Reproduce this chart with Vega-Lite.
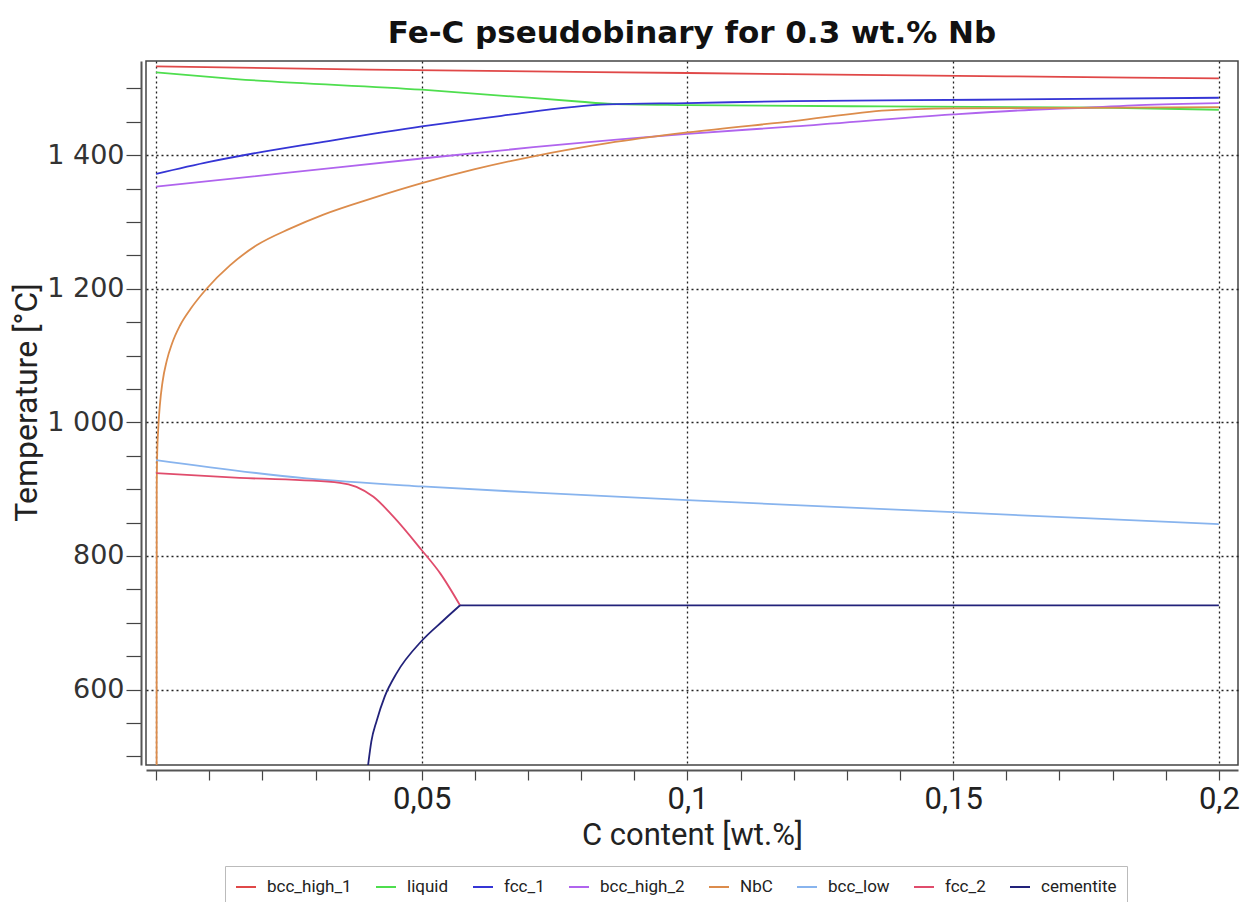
{
  "$schema": "https://vega.github.io/schema/vega-lite/v6.json",
  "width": 1092,
  "height": 704,
  "autosize": {"type": "none"},
  "padding": {"left": 146, "top": 61, "right": 13, "bottom": 137},
  "background": "white",
  "title": {
    "text": "Fe-C pseudobinary for 0.3 wt.% Nb",
    "font": "DejaVu Sans",
    "fontSize": 31,
    "fontWeight": "bold",
    "color": "#111111",
    "anchor": "middle",
    "offset": 11
  },
  "config": {
    "view": {"stroke": "#444444", "strokeWidth": 1.5}
  },
  "data": {
    "values": [
      {"p": "bcc_high_1", "s": "bcc_high_1", "i": 0, "c": 0.0, "t": 1533},
      {"p": "bcc_high_1", "s": "bcc_high_1", "i": 1, "c": 0.04, "t": 1528},
      {"p": "bcc_high_1", "s": "bcc_high_1", "i": 2, "c": 0.1, "t": 1523},
      {"p": "bcc_high_1", "s": "bcc_high_1", "i": 3, "c": 0.16, "t": 1518},
      {"p": "bcc_high_1", "s": "bcc_high_1", "i": 4, "c": 0.2, "t": 1515},

      {"p": "liquid", "s": "liquid", "i": 0, "c": 0.0, "t": 1524},
      {"p": "liquid", "s": "liquid", "i": 1, "c": 0.015, "t": 1514},
      {"p": "liquid", "s": "liquid", "i": 2, "c": 0.05, "t": 1498},
      {"p": "liquid", "s": "liquid", "i": 3, "c": 0.08, "t": 1480},
      {"p": "liquid", "s": "liquid", "i": 4, "c": 0.085, "t": 1477},
      {"p": "liquid", "s": "liquid", "i": 5, "c": 0.1, "t": 1475},
      {"p": "liquid", "s": "liquid", "i": 6, "c": 0.137, "t": 1473},
      {"p": "liquid", "s": "liquid", "i": 7, "c": 0.18, "t": 1471},
      {"p": "liquid", "s": "liquid", "i": 8, "c": 0.2, "t": 1468},

      {"p": "fcc_1", "s": "fcc_1", "i": 0, "c": 0.0, "t": 1372},
      {"p": "fcc_1", "s": "fcc_1", "i": 1, "c": 0.01, "t": 1390},
      {"p": "fcc_1", "s": "fcc_1", "i": 2, "c": 0.02, "t": 1405},
      {"p": "fcc_1", "s": "fcc_1", "i": 3, "c": 0.03, "t": 1418},
      {"p": "fcc_1", "s": "fcc_1", "i": 4, "c": 0.05, "t": 1443},
      {"p": "fcc_1", "s": "fcc_1", "i": 5, "c": 0.065, "t": 1459},
      {"p": "fcc_1", "s": "fcc_1", "i": 6, "c": 0.085, "t": 1476},
      {"p": "fcc_1", "s": "fcc_1", "i": 7, "c": 0.1, "t": 1478},
      {"p": "fcc_1", "s": "fcc_1", "i": 8, "c": 0.12, "t": 1481},
      {"p": "fcc_1", "s": "fcc_1", "i": 9, "c": 0.155, "t": 1483},
      {"p": "fcc_1", "s": "fcc_1", "i": 10, "c": 0.2, "t": 1486},

      {"p": "bcc_high_2", "s": "bcc_high_2", "i": 0, "c": 0.0, "t": 1353},
      {"p": "bcc_high_2", "s": "bcc_high_2", "i": 1, "c": 0.024, "t": 1373},
      {"p": "bcc_high_2", "s": "bcc_high_2", "i": 2, "c": 0.05, "t": 1395},
      {"p": "bcc_high_2", "s": "bcc_high_2", "i": 3, "c": 0.071, "t": 1412},
      {"p": "bcc_high_2", "s": "bcc_high_2", "i": 4, "c": 0.1, "t": 1432},
      {"p": "bcc_high_2", "s": "bcc_high_2", "i": 5, "c": 0.12, "t": 1443},
      {"p": "bcc_high_2", "s": "bcc_high_2", "i": 6, "c": 0.15, "t": 1461},
      {"p": "bcc_high_2", "s": "bcc_high_2", "i": 7, "c": 0.165, "t": 1468},
      {"p": "bcc_high_2", "s": "bcc_high_2", "i": 8, "c": 0.175, "t": 1471},
      {"p": "bcc_high_2", "s": "bcc_high_2", "i": 9, "c": 0.185, "t": 1475},
      {"p": "bcc_high_2", "s": "bcc_high_2", "i": 10, "c": 0.2, "t": 1478},

      {"p": "NbC", "s": "NbC", "i": 0, "c": 0.0001, "t": 487},
      {"p": "NbC", "s": "NbC", "i": 1, "c": 0.00012, "t": 900},
      {"p": "NbC", "s": "NbC", "i": 2, "c": 0.0002, "t": 950},
      {"p": "NbC", "s": "NbC", "i": 3, "c": 0.0004, "t": 990},
      {"p": "NbC", "s": "NbC", "i": 4, "c": 0.0007, "t": 1025},
      {"p": "NbC", "s": "NbC", "i": 5, "c": 0.0012, "t": 1060},
      {"p": "NbC", "s": "NbC", "i": 6, "c": 0.002, "t": 1092},
      {"p": "NbC", "s": "NbC", "i": 7, "c": 0.003, "t": 1118},
      {"p": "NbC", "s": "NbC", "i": 8, "c": 0.0045, "t": 1145},
      {"p": "NbC", "s": "NbC", "i": 9, "c": 0.0065, "t": 1170},
      {"p": "NbC", "s": "NbC", "i": 10, "c": 0.0095, "t": 1200},
      {"p": "NbC", "s": "NbC", "i": 11, "c": 0.0139, "t": 1235},
      {"p": "NbC", "s": "NbC", "i": 12, "c": 0.0189, "t": 1265},
      {"p": "NbC", "s": "NbC", "i": 13, "c": 0.0252, "t": 1290},
      {"p": "NbC", "s": "NbC", "i": 14, "c": 0.0315, "t": 1311},
      {"p": "NbC", "s": "NbC", "i": 15, "c": 0.0409, "t": 1336},
      {"p": "NbC", "s": "NbC", "i": 16, "c": 0.05, "t": 1358},
      {"p": "NbC", "s": "NbC", "i": 17, "c": 0.06, "t": 1379},
      {"p": "NbC", "s": "NbC", "i": 18, "c": 0.0708, "t": 1398},
      {"p": "NbC", "s": "NbC", "i": 19, "c": 0.085, "t": 1418},
      {"p": "NbC", "s": "NbC", "i": 20, "c": 0.1, "t": 1434},
      {"p": "NbC", "s": "NbC", "i": 21, "c": 0.12, "t": 1451},
      {"p": "NbC", "s": "NbC", "i": 22, "c": 0.1376, "t": 1467},
      {"p": "NbC", "s": "NbC", "i": 23, "c": 0.15, "t": 1470},
      {"p": "NbC", "s": "NbC", "i": 24, "c": 0.2, "t": 1472},

      {"p": "bcc_low", "s": "bcc_low", "i": 0, "c": 0.0, "t": 943.5},
      {"p": "bcc_low", "s": "bcc_low", "i": 1, "c": 0.0283, "t": 916},
      {"p": "bcc_low", "s": "bcc_low", "i": 2, "c": 0.05, "t": 904},
      {"p": "bcc_low", "s": "bcc_low", "i": 3, "c": 0.0723, "t": 894.5},
      {"p": "bcc_low", "s": "bcc_low", "i": 4, "c": 0.1, "t": 883.5},
      {"p": "bcc_low", "s": "bcc_low", "i": 5, "c": 0.15, "t": 865.5},
      {"p": "bcc_low", "s": "bcc_low", "i": 6, "c": 0.2, "t": 847.5},

      {"p": "fcc_2", "s": "fcc_2", "i": 0, "c": 0.0, "t": 924},
      {"p": "fcc_2", "s": "fcc_2", "i": 1, "c": 0.0157, "t": 917},
      {"p": "fcc_2", "s": "fcc_2", "i": 2, "c": 0.0346, "t": 909.5},
      {"p": "fcc_2", "s": "fcc_2", "i": 3, "c": 0.0377, "t": 903.5},
      {"p": "fcc_2", "s": "fcc_2", "i": 4, "c": 0.0409, "t": 888.5},
      {"p": "fcc_2", "s": "fcc_2", "i": 5, "c": 0.0447, "t": 858.5},
      {"p": "fcc_2", "s": "fcc_2", "i": 6, "c": 0.05, "t": 808.5},
      {"p": "fcc_2", "s": "fcc_2", "i": 7, "c": 0.0535, "t": 773.5},
      {"p": "fcc_2", "s": "fcc_2", "i": 8, "c": 0.0572, "t": 726},

      {"p": "cementite", "s": "cementite_a", "i": 0, "c": 0.0399, "t": 487},
      {"p": "cementite", "s": "cementite_a", "i": 1, "c": 0.0405, "t": 522},
      {"p": "cementite", "s": "cementite_a", "i": 2, "c": 0.0415, "t": 553},
      {"p": "cementite", "s": "cementite_a", "i": 3, "c": 0.043, "t": 589},
      {"p": "cementite", "s": "cementite_a", "i": 4, "c": 0.0453, "t": 625},
      {"p": "cementite", "s": "cementite_a", "i": 5, "c": 0.05, "t": 673},
      {"p": "cementite", "s": "cementite_a", "i": 6, "c": 0.054, "t": 703},
      {"p": "cementite", "s": "cementite_a", "i": 7, "c": 0.0572, "t": 726},
      {"p": "cementite", "s": "cementite_b", "i": 8, "c": 0.0572, "t": 726},
      {"p": "cementite", "s": "cementite_b", "i": 9, "c": 0.2, "t": 726}
    ]
  },
  "mark": {"type": "line", "strokeWidth": 1.8, "clip": true, "interpolate": "monotone"},
  "encoding": {
    "x": {
      "field": "c",
      "type": "quantitative",
      "scale": {"domain": [-0.0019, 0.2036], "nice": false, "zero": false},
      "axis": {
        "title": "C content [wt.%]",
        "titleFont": "Roboto",
        "titleFontSize": 31,
        "titleFontWeight": "normal",
        "titleColor": "#222222",
        "titlePadding": 6,
        "values": [0, 0.01, 0.02, 0.03, 0.04, 0.05, 0.06, 0.07, 0.08, 0.09, 0.1, 0.11, 0.12, 0.13, 0.14, 0.15, 0.16, 0.17, 0.18, 0.19, 0.2],
        "labelExpr": "(abs(datum.value*20 - round(datum.value*20)) < 0.000001 && datum.value > 0) ? replace(format(datum.value, '~g'), '.', ',') : ''",
        "labelFont": "Roboto",
        "labelFontSize": 31,
        "labelColor": "#222222",
        "labelPadding": 4,
        "labelFlush": false,
        "labelOverlap": false,
        "offset": 5,
        "domainColor": "#555555",
        "domainWidth": 2,
        "tickColor": "#444444",
        "tickSize": 10,
        "tickWidth": 1.2,
        "grid": true,
        "gridColor": "#222222",
        "gridDash": [2, 3],
        "gridWidth": 1.3,
        "gridOpacity": {"condition": {"test": "abs(datum.value*20 - round(datum.value*20)) < 0.000001", "value": 1}, "value": 0}
      }
    },
    "y": {
      "field": "t",
      "type": "quantitative",
      "scale": {"domain": [487, 1541], "nice": false, "zero": false},
      "axis": {
        "title": "Temperature [°C]",
        "titleFont": "Roboto",
        "titleFontSize": 32,
        "titleFontWeight": "normal",
        "titleColor": "#222222",
        "titlePadding": 3,
        "titleY": 341,
        "values": [500, 550, 600, 650, 700, 750, 800, 850, 900, 950, 1000, 1050, 1100, 1150, 1200, 1250, 1300, 1350, 1400, 1450, 1500],
        "labelExpr": "datum.value % 200 === 0 ? replace(format(datum.value, ','), ',', ' ') : ''",
        "labelFont": "DejaVu Sans",
        "labelFontSize": 27,
        "labelColor": "#333333",
        "labelPadding": 2,
        "labelFlush": false,
        "labelOverlap": false,
        "offset": 5,
        "domainColor": "#555555",
        "domainWidth": 2,
        "tickColor": "#444444",
        "tickSize": 15,
        "tickWidth": 1.2,
        "grid": true,
        "gridColor": "#222222",
        "gridDash": [2, 3],
        "gridWidth": 1.3,
        "gridOpacity": {"condition": {"test": "datum.value % 200 === 0", "value": 1}, "value": 0}
      }
    },
    "color": {
      "field": "p",
      "type": "nominal",
      "scale": {
        "domain": ["bcc_high_1", "liquid", "fcc_1", "bcc_high_2", "NbC", "bcc_low", "fcc_2", "cementite"],
        "range": ["#e04848", "#4ede4e", "#3535d5", "#b064ee", "#dc8c4c", "#88b4ee", "#e04c6c", "#22227a"]
      },
      "legend": {
        "title": null,
        "orient": "none",
        "direction": "horizontal",
        "columns": 8,
        "legendX": 79,
        "legendY": 805,
        "padding": 10,
        "strokeColor": "#bbbbbb",
        "fillColor": "white",
        "symbolType": "stroke",
        "symbolSize": 400,
        "symbolStrokeWidth": 2,
        "labelFont": "Roboto",
        "labelFontSize": 17,
        "labelColor": "#222222",
        "labelOffset": 10,
        "columnPadding": 20
      }
    },
    "detail": {"field": "s"},
    "order": {"field": "i", "type": "quantitative"}
  }
}
